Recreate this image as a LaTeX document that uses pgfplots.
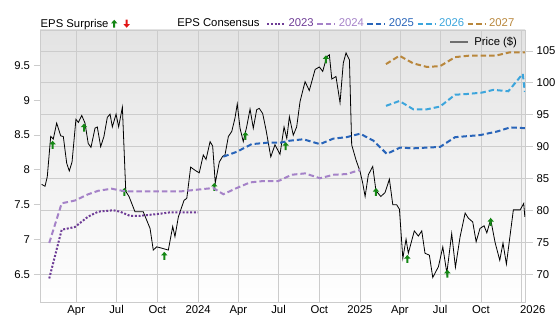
\documentclass[border=0pt]{standalone}
\usepackage{pgfplots}
\pgfplotsset{compat=1.18}
\usepackage{fontspec}
\setmainfont{Liberation Sans}
\definecolor{c23}{RGB}{110,60,150}
\definecolor{c24}{RGB}{165,130,200}
\definecolor{c25}{RGB}{40,100,185}
\definecolor{c26}{RGB}{60,165,220}
\definecolor{c27}{RGB}{185,135,60}
\definecolor{arrgreen}{RGB}{20,135,20}
\definecolor{arrred}{RGB}{225,20,20}
\definecolor{gridgray}{RGB}{204,204,204}
\definecolor{bggray}{RGB}{227,227,227}
\definecolor{leggray}{RGB}{110,110,110}
\pgfdeclareplotmark{uparr}{%
 \pgfpathmoveto{\pgfqpoint{0pt}{4pt}}%
 \pgfpathlineto{\pgfqpoint{3.2pt}{0.4pt}}%
 \pgfpathlineto{\pgfqpoint{1pt}{0.4pt}}%
 \pgfpathlineto{\pgfqpoint{1pt}{-4pt}}%
 \pgfpathlineto{\pgfqpoint{-1pt}{-4pt}}%
 \pgfpathlineto{\pgfqpoint{-1pt}{0.4pt}}%
 \pgfpathlineto{\pgfqpoint{-3.2pt}{0.4pt}}%
 \pgfpathclose\pgfusepathqfill}
\pgfdeclareplotmark{dnarr}{%
 \pgfpathmoveto{\pgfqpoint{0pt}{-4pt}}%
 \pgfpathlineto{\pgfqpoint{3.2pt}{-0.4pt}}%
 \pgfpathlineto{\pgfqpoint{1pt}{-0.4pt}}%
 \pgfpathlineto{\pgfqpoint{1pt}{4pt}}%
 \pgfpathlineto{\pgfqpoint{-1pt}{4pt}}%
 \pgfpathlineto{\pgfqpoint{-1pt}{-0.4pt}}%
 \pgfpathlineto{\pgfqpoint{-3.2pt}{-0.4pt}}%
 \pgfpathclose\pgfusepathqfill}
\newcommand\lfont{\fontsize{11.3}{13.5}\selectfont}
\pgfplotsset{
  every tick label/.append style={font=\lfont, text=black},
  /pgf/number format/assume math mode=true,
}
\pgfplotstableread{
x y
2023.033 84.1
2023.054 83.8
2023.068 85.3
2023.089 91.6
2023.105 91.2
2023.126 93.7
2023.151 91.7
2023.167 91.6
2023.188 87.4
2023.204 86.2
2023.221 87.6
2023.245 94.3
2023.260 93.8
2023.281 94.9
2023.301 93.7
2023.321 90.5
2023.338 89.9
2023.363 92.9
2023.377 93.1
2023.398 90.0
2023.418 91.6
2023.439 94.6
2023.456 95.1
2023.470 93.1
2023.493 95.1
2023.509 93.1
2023.532 96.2
2023.553 83.0
2023.573 82.2
2023.590 81.1
2023.610 79.8
2023.661 79.8
2023.682 78.5
2023.703 77.2
2023.723 73.8
2023.744 74.3
2023.775 74.1
2023.816 73.8
2023.843 77.5
2023.857 75.9
2023.878 79.0
2023.913 81.6
2023.930 81.9
2023.954 86.8
2023.981 86.3
2024.007 85.9
2024.032 88.7
2024.049 88.0
2024.074 90.8
2024.090 90.1
2024.106 84.3
2024.131 87.6
2024.152 88.5
2024.166 88.7
2024.187 91.6
2024.208 92.4
2024.228 94.5
2024.242 96.7
2024.259 92.9
2024.279 90.8
2024.300 93.1
2024.321 95.9
2024.341 92.9
2024.362 95.8
2024.378 96.0
2024.399 95.2
2024.420 92.6
2024.449 88.4
2024.475 90.3
2024.506 88.8
2024.531 93.1
2024.548 91.3
2024.564 94.7
2024.588 91.8
2024.609 93.1
2024.630 97.1
2024.661 100.2
2024.687 98.8
2024.723 102.1
2024.749 102.5
2024.770 101.8
2024.795 104.1
2024.811 104.4
2024.826 100.6
2024.852 101.0
2024.877 96.9
2024.897 103.1
2024.914 104.7
2024.935 103.6
2024.949 90.3
2024.976 87.9
2025.001 86.1
2025.017 84.3
2025.032 82.2
2025.052 85.6
2025.079 86.9
2025.099 83.1
2025.129 82.2
2025.155 82.8
2025.182 84.9
2025.203 80.9
2025.227 80.9
2025.244 80.2
2025.265 72.5
2025.285 75.5
2025.299 73.3
2025.336 76.8
2025.361 76.0
2025.382 76.8
2025.402 73.3
2025.429 73.0
2025.450 69.5
2025.485 71.2
2025.512 74.3
2025.537 70.2
2025.567 76.4
2025.590 71.1
2025.619 75.9
2025.650 79.6
2025.670 78.8
2025.697 78.2
2025.718 75.1
2025.742 77.2
2025.767 77.6
2025.784 76.5
2025.808 78.6
2025.835 75.0
2025.864 72.2
2025.884 74.9
2025.905 71.6
2025.948 80.1
2025.990 80.1
2026.012 81.1
2026.019 79.0
}\price
\pgfplotstableread{
x y
2023.101 90.3
2023.295 93.0
2023.544 82.9
2023.791 72.9
2024.100 83.7
2024.292 91.7
2024.541 90.1
2024.790 103.7
2025.099 82.9
2025.293 72.4
2025.540 70.1
2025.808 78.2
}\beats
\pgfplotstableread{
x y
2023.080 6.44
2023.157 7.14
2023.239 7.18
2023.321 7.33
2023.383 7.40
2023.476 7.42
2023.517 7.40
2023.579 7.34
2023.641 7.34
2023.765 7.37
2023.826 7.39
2023.999 7.39
}\eA
\pgfplotstableread{
x y
2023.080 6.95
2023.157 7.52
2023.239 7.56
2023.321 7.65
2023.383 7.70
2023.466 7.73
2023.507 7.71
2023.559 7.69
2023.744 7.69
2023.888 7.69
2024.012 7.72
2024.094 7.74
2024.156 7.65
2024.239 7.74
2024.321 7.82
2024.403 7.84
2024.496 7.84
2024.578 7.93
2024.661 7.95
2024.753 7.88
2024.836 7.93
2024.918 7.94
2025.001 8.00
}\eB
\pgfplotstableread{
x y
2024.156 8.19
2024.239 8.26
2024.331 8.37
2024.424 8.39
2024.506 8.39
2024.568 8.42
2024.650 8.44
2024.753 8.37
2024.836 8.45
2024.918 8.47
2025.001 8.52
2025.083 8.42
2025.166 8.23
2025.248 8.32
2025.330 8.31
2025.495 8.33
2025.588 8.47
2025.742 8.50
2025.845 8.55
2025.928 8.61
2026.019 8.60
}\eC
\pgfplotstableread{
x y
2025.161 8.92
2025.244 8.99
2025.330 8.87
2025.413 8.87
2025.495 8.91
2025.588 9.08
2025.660 9.09
2025.753 9.11
2025.825 9.15
2025.917 9.13
2026.006 9.38
2026.019 9.12
}\eD
\pgfplotstableread{
x y
2025.161 9.52
2025.244 9.64
2025.330 9.53
2025.413 9.48
2025.495 9.49
2025.588 9.62
2025.670 9.64
2025.753 9.64
2025.835 9.64
2025.928 9.69
2026.019 9.69
}\eE
\begin{document}
\begin{tikzpicture}
\useasboundingbox (0,0) rectangle (556pt,315pt);
% ---- price axis (right) ----
\begin{axis}[
  at={(40pt,13pt)}, anchor=south west, scale only axis,
  width=485pt, height=272pt,
  xmin=2023.023, xmax=2026.020, ymin=65.66, ymax=108.29,
  axis background/.style={top color=bggray, middle color=white, bottom color=white},
  xtick={2023.247,2023.496,2023.748,2024,2024.249,2024.497,2024.749,2025,2025.247,2025.496,2025.748},
  xticklabels={Apr,Jul,Oct,2024,Apr,Jul,Oct,2025,Apr,Jul,Oct},
  extra x ticks={2026}, extra x tick labels={2026},
  extra x tick style={grid=major, xticklabel style={xshift=11pt}},
  xticklabel style={yshift=8pt},
  ytick={70,75,80,85,90,95,100,105},
  ytick pos=right, xtick pos=bottom,
  xtick style={draw=none},
  ytick style={gridgray, line width=0.8pt},
  tick align=outside, major tick length=8pt,
  grid=major, grid style={gridgray, line width=0.8pt},
  axis line style={gridgray, line width=0.8pt},
  legend style={draw=none, fill=none, at={(0.9835,0.957)}, anchor=east,
    font=\lfont, inner sep=0pt, outer sep=0pt,
    nodes={inner sep=0pt}, /tikz/column sep=5pt},
  legend image code/.code={\draw[#1] (0pt,0pt) -- (18pt,0pt);},
]
\addplot[black, line width=0.8pt, forget plot] table {\price};
\addplot[only marks, mark=uparr, color=arrgreen, forget plot] table {\beats};
\addlegendimage{leggray, line width=2pt}
\addlegendentry{Price (\$)}
\end{axis}
% ---- EPS axis (left) ----
\begin{axis}[
  at={(40pt,13pt)}, anchor=south west, scale only axis,
  width=485pt, height=272pt,
  xmin=2023.023, xmax=2026.020, ymin=6.102, ymax=10.010,
  axis x line=none, axis y line*=left,
  y axis line style={gridgray, line width=0.8pt, -},
  ytick={6.5,7,7.5,8,8.5,9,9.5},
  yticklabels={6.5,7,7.5,8,8.5,9,9.5},
  ytick style={gridgray, line width=0.8pt},
  tick align=outside, major tick length=6.5pt,
  legend columns=-1,
  legend style={draw=none, fill=none, at={(-0.0037,1.023)}, anchor=west,
    font=\lfont, inner sep=0pt, outer sep=0pt,
    nodes={inner sep=0pt}, /tikz/column sep=2.5pt},
  legend image code/.code={\draw[#1] (0pt,0pt) -- (18pt,0pt);},
]
\addlegendimage{empty legend}
\addlegendimage{legend image code/.code={\begin{scope}\pgfsetfillcolor{arrgreen}\pgfuseplotmark{uparr}\end{scope}}}
\addlegendimage{legend image code/.code={\begin{scope}\pgfsetfillcolor{arrred}\pgfuseplotmark{dnarr}\end{scope}}}
\addlegendimage{empty legend}
\addplot[c23, line width=2pt, dash pattern=on 2pt off 1.7pt] table {\eA};
\addplot[c24, line width=2pt, dash pattern=on 5.5pt off 3pt] table {\eB};
\addplot[c25, line width=2pt, dash pattern=on 5.5pt off 3pt] table {\eC};
\addplot[c26, line width=2pt, dash pattern=on 5.5pt off 3pt] table {\eD};
\addplot[c27, line width=2pt, dash pattern=on 5.5pt off 3pt] table {\eE};
\legend{EPS Surprise,\mbox{},\hspace*{40pt},EPS Consensus\hspace*{4pt},\textcolor{c23}{2023},\textcolor{c24}{2024},\textcolor{c25}{2025},\textcolor{c26}{2026},\textcolor{c27}{2027}}
\end{axis}
\end{tikzpicture}
\end{document}
